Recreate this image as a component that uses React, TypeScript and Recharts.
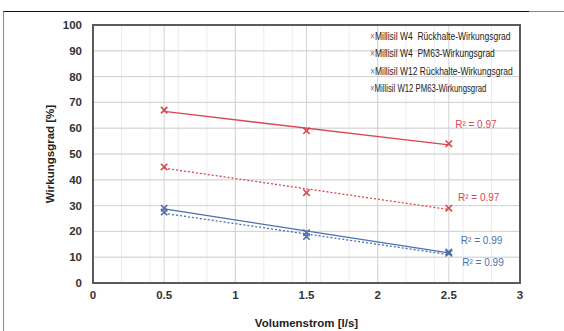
import React from 'react';
import {
  ComposedChart,
  Line,
  Scatter,
  XAxis,
  YAxis,
  CartesianGrid,
  ReferenceArea,
  ReferenceDot,
} from 'recharts';

// measured points (Volumenstrom l/s -> Wirkungsgrad %)
const FLOWS = [0.5, 1.5, 2.5];
const W4_RUECK = [67, 59, 54];
const W4_PM63 = [45, 35, 29];
const W12_RUECK = [29, 19.5, 12];
const W12_PM63 = [27.5, 18, 11.5];

// trend lines (start at 0.5, end at 2.5)
const TREND_X = [0.5, 2.5];
const TREND_W4_RUECK = [66.5, 53.5];
const TREND_W4_PM63 = [44.5, 28.5];
const TREND_W12_RUECK = [28.7, 11.7];
const TREND_W12_PM63 = [27, 11];

const R2_VALUES = ['0.97', '0.97', '0.99', '0.99'];

const X_TICKS = [0, 0.5, 1, 1.5, 2, 2.5, 3];
const Y_TICKS = [0, 10, 20, 30, 40, 50, 60, 70, 80, 90, 100];
const X_MINOR = Array.from({ length: 31 }, (_, i) => i / 10);
const Y_MINOR = Array.from({ length: 51 }, (_, i) => i * 2);

const RED = '#d9474f';
const BLUE = '#4e6fae';
const FONT = 'Liberation Sans, Arial, sans-serif';

const toPoints = (xs: number[], ys: number[]) => xs.map((x, i) => ({ x, y: ys[i] }));

const SERIES = [
  { name: 'Millisil W4  Rückhalte-Wirkungsgrad', values: W4_RUECK, trend: TREND_W4_RUECK, color: RED, dash: undefined },
  { name: 'Millisil W4  PM63-Wirkungsgrad', values: W4_PM63, trend: TREND_W4_PM63, color: RED, dash: '2 2' },
  { name: 'Millisil W12 Rückhalte-Wirkungsgrad', values: W12_RUECK, trend: TREND_W12_RUECK, color: BLUE, dash: undefined },
  { name: 'Millisil W12 PM63-Wirkungsgrad', values: W12_PM63, trend: TREND_W12_PM63, color: BLUE, dash: '2 2' },
];

// where the R² annotations sit (data coords)
const R2_POS = [
  { x: 2.69, y: 61.5 },
  { x: 2.71, y: 33 },
  { x: 2.73, y: 16.3 },
  { x: 2.74, y: 7.8 },
];

const Cross = (color: string) => (props: any) => {
  const { cx, cy } = props;
  if (cx == null || cy == null) return null;
  const s = 3.2;
  return (
    <path
      d={`M${cx - s},${cy - s}L${cx + s},${cy + s}M${cx - s},${cy + s}L${cx + s},${cy - s}`}
      stroke={color}
      strokeWidth={1.6}
      fill="none"
    />
  );
};

// the original legend text is quite condensed
const LegendBox = () => (
  <div
    style={{
      position: 'absolute',
      left: 370,
      top: 28,
      fontFamily: FONT,
      color: '#222',
      lineHeight: '17.3px',
      transform: 'scaleX(0.72)',
      transformOrigin: 'left top',
    }}
  >
    {SERIES.map((s, i) => (
      <div key={i} style={{ whiteSpace: 'pre', fontSize: i === 3 ? 10.8 : 11.8 }}>
        <span style={{ color: s.color }}>×</span>
        {s.name}
      </div>
    ))}
  </div>
);

const App: React.FC = () => {
  return (
    <div style={{ position: 'absolute', left: 0, top: 0, width: 564, height: 331, background: '#fff' }}>
      <div
        style={{
          position: 'absolute',
          left: 3,
          top: 11,
          width: 526,
          height: 320,
          borderTop: '1px solid #111',
          borderLeft: '1px solid #8a8a8a',
        }}
      />
      <div style={{ position: 'absolute', left: 529, top: 11, width: 35, borderTop: '1px solid #888' }} />
      <div style={{ position: 'absolute', left: 0, top: 0 }}>
        <ComposedChart
          width={564}
          height={331}
          margin={{ top: 25, right: 44, bottom: 0, left: 0 }}
          style={{ fontFamily: FONT }}
        >
          <CartesianGrid stroke="#ececec" strokeWidth={1} horizontalValues={Y_MINOR} verticalValues={X_MINOR} />
          <CartesianGrid stroke="#d2d2d2" strokeWidth={1} horizontalValues={Y_TICKS} verticalValues={X_TICKS} />
          <XAxis
            dataKey="x"
            type="number"
            domain={[0, 3]}
            ticks={X_TICKS}
            height={48}
            axisLine={false}
            tickLine={false}
            tick={{ fill: '#333', fontSize: 11.5, fontWeight: 'bold' }}
            label={{ value: 'Volumenstrom [l/s]', position: 'insideBottom', offset: 4, fill: '#222', fontSize: 11.5, fontWeight: 'bold' }}
          />
          <YAxis
            dataKey="y"
            type="number"
            width={93}
            domain={[0, 100]}
            ticks={Y_TICKS}
            axisLine={false}
            tickLine={false}
            tickMargin={5}
            tick={{ fill: '#333', fontSize: 11.5, fontWeight: 'bold' }}
            label={{ value: 'Wirkungsgrad [%]', angle: -90, position: 'insideLeft', offset: 50, fill: '#222', fontSize: 11.5, fontWeight: 'bold', style: { textAnchor: 'middle' } }}
          />
          {SERIES.map((s, i) => (
            <Line
              key={`t${i}`}
              data={toPoints(TREND_X, s.trend)}
              dataKey="y"
              stroke={s.color}
              strokeWidth={1.3}
              strokeDasharray={s.dash}
              dot={false}
              activeDot={false}
              isAnimationActive={false}
              legendType="none"
            />
          ))}
          {SERIES.map((s, i) => (
            <Scatter
              key={`s${i}`}
              name={s.name}
              data={toPoints(FLOWS, s.values)}
              dataKey="y"
              fill={s.color}
              shape={Cross(s.color)}
              isAnimationActive={false}
            />
          ))}
          {R2_POS.map((p, i) => (
            <ReferenceDot
              key={`r${i}`}
              x={p.x}
              y={p.y}
              r={0}
              fill="none"
              stroke="none"
              label={{ value: `R² = ${R2_VALUES[i]}`, position: 'center', fill: SERIES[i].color, fontSize: 10 }}
            />
          ))}
          <ReferenceArea x1={0} x2={3} y1={0} y2={100} fill="none" stroke="#5a5a5a" strokeWidth={2} ifOverflow="visible" />
        </ComposedChart>
      </div>
      <LegendBox />
    </div>
  );
};

export default App;
